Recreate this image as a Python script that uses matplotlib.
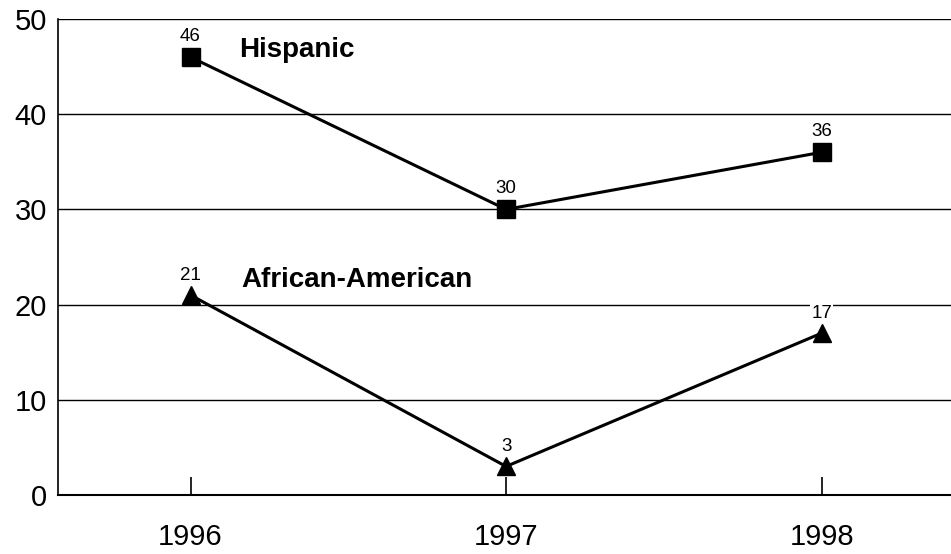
import numpy as np
import matplotlib.pyplot as plt

plt.rcParams['font.family'] = ['Liberation Sans', 'DejaVu Sans']

years = [1996, 1997, 1998]
hispanic = [46, 30, 36]
african_american = [21, 3, 17]

fig = plt.figure(figsize=(9.51, 5.54), dpi=100)
ax = fig.add_axes([0.061, 0.1065, 0.939, 0.8592])

ax.set_xlim(1995.58, 1998.41)
ax.set_ylim(0, 50)

for y in [10, 20, 30, 40, 50]:
    ax.axhline(y, color='black', lw=1.0, zorder=1)

ax.plot(years, hispanic, color='black', lw=2.2, marker='s', ms=13, zorder=3)
ax.plot(years, african_american, color='black', lw=2.2, marker='^', ms=13, zorder=3)

for x, v in zip(years, hispanic):
    ax.annotate(str(v), (x, v), xytext=(0, 9), textcoords='offset points',
                ha='center', va='bottom', fontsize=13.5,
                bbox=dict(fc='white', ec='none', pad=1), zorder=4)
for x, v in zip(years, african_american):
    ax.annotate(str(v), (x, v), xytext=(0, 8), textcoords='offset points',
                ha='center', va='bottom', fontsize=13.5,
                bbox=dict(fc='white', ec='none', pad=1), zorder=4)

ax.text(1996.155, 46.7, 'Hispanic', fontsize=20, fontweight='bold',
        ha='left', va='center')
ax.text(1996.16, 22.6, 'African-American', fontsize=20, fontweight='bold',
        ha='left', va='center', bbox=dict(fc='white', ec='none', pad=1))

ax.set_xticks(years)
ax.set_yticks([0, 10, 20, 30, 40, 50])
ax.tick_params(axis='x', direction='in', length=13, width=1.2, labelsize=21, pad=20)
ax.tick_params(axis='y', length=0, labelsize=21, pad=8)

for s in ['top', 'right']:
    ax.spines[s].set_visible(False)
ax.spines['left'].set_linewidth(1.2)
ax.spines['bottom'].set_linewidth(1.5)

fig.savefig('out.png', dpi=100)
